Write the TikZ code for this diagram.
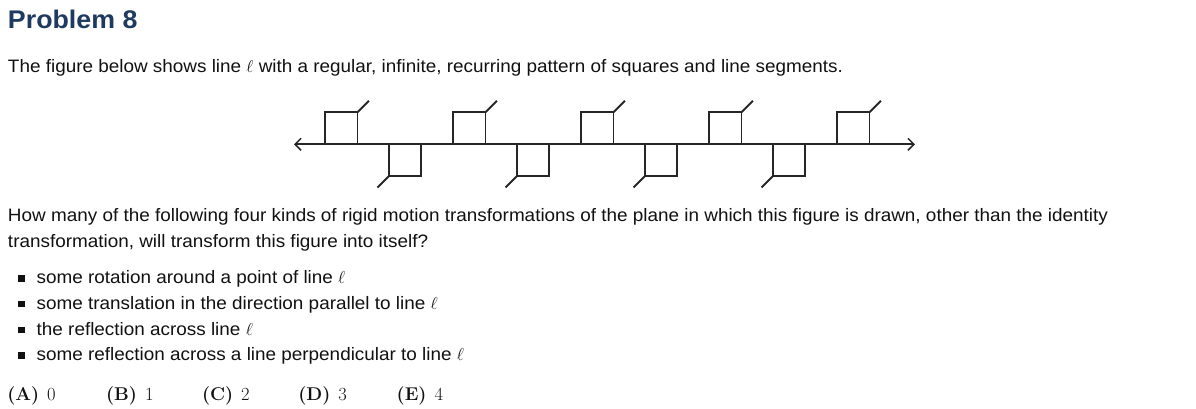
\documentclass[tikz,border=0pt]{standalone}
\usepackage{fontspec}
\newfontfamily\bodyfont[FakeStretch=1.05]{Liberation Sans}
\usetikzlibrary{arrows.meta}
\definecolor{headnavy}{HTML}{1F3A5F}
\definecolor{bodyink}{HTML}{111111}
\tikzset{
  txt/.style={anchor=base west, inner sep=0pt, outer sep=0pt, text=bodyink,
    font=\bodyfont\fontsize{18}{20}\selectfont},
  head/.style={anchor=base west, inner sep=0pt, outer sep=0pt, text=headnavy,
    font=\bodyfont\bfseries\fontsize{25.5}{30}\selectfont},
  ans/.style={anchor=base west, inner sep=0pt, outer sep=0pt, text=bodyink,
    font=\fontsize{18.5}{20}\selectfont},
  bul/.style={fill=bodyink, draw=none, minimum size=6.7pt, inner sep=0pt},
  fig/.style={line width=1.9pt, line cap=butt, line join=miter, color=black!85},
  axis/.style={fig, {Straight Barb[length=6pt,width=12pt,line width=1.5pt]}-{Straight Barb[length=6pt,width=12pt,line width=1.5pt]}}
}
\begin{document}
\begin{tikzpicture}[x=1pt,y=-1pt]
\useasboundingbox (0,0) rectangle (1196,408);

\node[head] (title) at (8,28.3) {Problem 8};
\node[txt] (intro) at (8,72) {The figure below shows line $\ell$ with a regular, infinite, recurring pattern of squares and line segments.};

% figure
\coordinate (L) at (294,144.3);
\coordinate (R) at (915,144.3);
\draw[axis] (L) -- (R);
\foreach \k in {0,...,4}{
  \pgfmathsetmacro{\xa}{325+128*\k}
  \draw[fig] (\xa,144.3) -- (\xa,112.3) -- (\xa+32.5,112.3) -- (\xa+32.5,144.3);
  \draw[fig] (\xa+32.5,112.3) -- ++(11.5,-11.5);
}
\foreach \k in {0,...,3}{
  \pgfmathsetmacro{\xb}{389+128*\k}
  \draw[fig] (\xb,144.3) -- (\xb,176) -- (\xb+32.3,176) -- (\xb+32.3,144.3);
  \draw[fig] (\xb,176) -- ++(-11.5,11.5);
}

\node[txt] (q1) at (8,221.7) {How many of the following four kinds of rigid motion transformations of the plane in which this figure is drawn, other than the identity};
\node[txt] (q2) at (8,247.7) {transformation, will transform this figure into itself?};

\node[bul] (b1) at (21.7,278.3) {};
\node[txt] (t1) at (36.7,283.3) {some rotation around a point of line $\ell$};
\node[bul] (b2) at (21.7,304) {};
\node[txt] (t2) at (36.7,309) {some translation in the direction parallel to line $\ell$};
\node[bul] (b3) at (21.7,330) {};
\node[txt] (t3) at (36.7,335) {the reflection across line $\ell$};
\node[bul] (b4) at (21.7,355.5) {};
\node[txt] (t4) at (36.7,360.5) {some reflection across a line perpendicular to line $\ell$};

\node[ans] (aA) at (7.3,400.5) {\textbf{(A)}\hspace{8pt}0};
\node[ans] (aB) at (106,400.5) {\textbf{(B)}\hspace{8pt}1};
\node[ans] (aC) at (202,400.5) {\textbf{(C)}\hspace{8pt}2};
\node[ans] (aD) at (298.3,400.5) {\textbf{(D)}\hspace{8pt}3};
\node[ans] (aE) at (396.7,400.5) {\textbf{(E)}\hspace{8pt}4};
\end{tikzpicture}
\end{document}
